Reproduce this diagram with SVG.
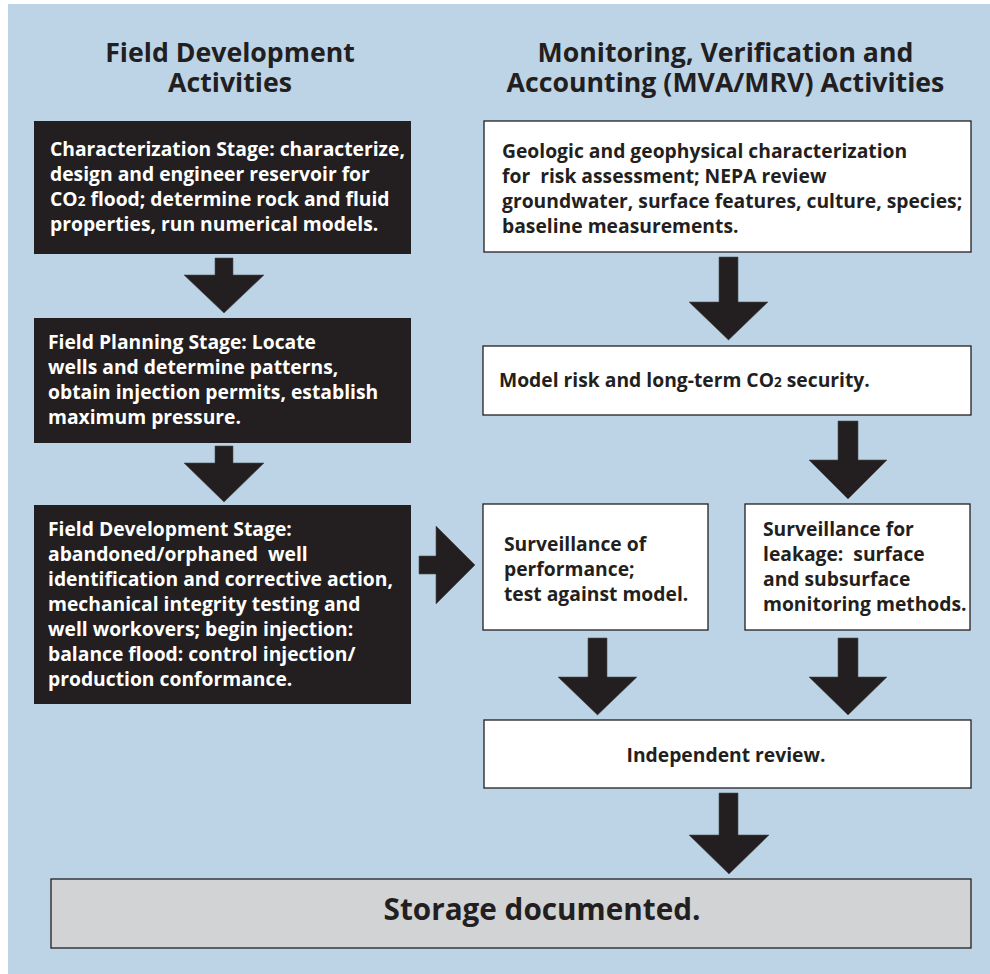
<svg xmlns="http://www.w3.org/2000/svg" width="990" height="974" viewBox="0 0 990 974">
<style>
text{font-family:"Open Sans","Liberation Sans",sans-serif;font-weight:700;}
.t{font-size:26.7px;fill:#231f20;text-anchor:middle;}
.w{font-size:19.3px;fill:#ffffff;}
.d{font-size:19.3px;fill:#231f20;}
.blk{fill:#231f20;}
.wht{fill:#ffffff;stroke:#231f20;stroke-width:1.3;}
.gry{fill:#d1d3d4;stroke:#231f20;stroke-width:1.3;}
.arr{fill:#231f20;stroke:#4d4d4f;stroke-width:0.6;}
.s{font-size:13.5px;}
</style>
<rect x="0" y="0" width="990" height="974" fill="#ffffff"/>
<rect x="8" y="4" width="982" height="970" fill="#bdd4e7"/>
<g id="title-left">
<text class="t" x="230" y="62">Field Development</text>
<text class="t" x="230" y="92">Activities</text>
</g>
<g id="title-right">
<text class="t" x="725.5" y="62">Monitoring, Verification and</text>
<text class="t" x="725.5" y="92">Accounting (MVA/MRV) Activities</text>
</g>
<g id="characterization">
<rect class="blk" x="34" y="121" width="377" height="133"/>
<text class="w" x="50" y="156">Characterization Stage: characterize,</text>
<text class="w" x="50" y="181">design and engineer reservoir for</text>
<text class="w" x="50" y="206">CO<tspan class="s">2</tspan> flood; determine rock and fluid</text>
<text class="w" x="50" y="231">properties, run numerical models.</text>
</g>
<g id="field-planning">
<rect class="blk" x="34" y="318" width="377" height="125"/>
<text class="w" x="48" y="349">Field Planning Stage: Locate</text>
<text class="w" x="48" y="374">wells and determine patterns,</text>
<text class="w" x="48" y="399">obtain injection permits, establish</text>
<text class="w" x="48" y="424">maximum pressure.</text>
</g>
<g id="field-development">
<rect class="blk" x="34" y="505" width="377" height="199"/>
<text class="w" x="48" y="536">Field Development Stage:</text>
<text class="w" x="48" y="561" xml:space="preserve">abandoned/orphaned  well</text>
<text class="w" x="48" y="586">identification and corrective action,</text>
<text class="w" x="48" y="611">mechanical integrity testing and</text>
<text class="w" x="48" y="636">well workovers; begin injection:</text>
<text class="w" x="48" y="661">balance flood: control injection/</text>
<text class="w" x="48" y="686">production conformance.</text>
</g>
<g id="geologic">
<rect class="wht" x="484" y="121" width="487" height="131"/>
<text class="d" x="502" y="158">Geologic and geophysical characterization</text>
<text class="d" x="502" y="183" xml:space="preserve">for  risk assessment; NEPA review</text>
<text class="d" x="502" y="208">groundwater, surface features, culture, species;</text>
<text class="d" x="502" y="233">baseline measurements.</text>
</g>
<g id="model-risk">
<rect class="wht" x="483" y="346" width="488" height="69"/>
<text class="d" x="499" y="387">Model risk and long-term CO<tspan class="s">2</tspan> security.</text>
</g>
<g id="surv-performance">
<rect class="wht" x="483" y="504" width="225" height="126"/>
<text class="d" x="504" y="551">Surveillance of</text>
<text class="d" x="504" y="576">performance;</text>
<text class="d" x="504" y="601">test against model.</text>
</g>
<g id="surv-leakage">
<rect class="wht" x="745" y="504" width="225" height="126"/>
<text class="d" x="763" y="536">Surveillance for</text>
<text class="d" x="763" y="561" xml:space="preserve">leakage:  surface</text>
<text class="d" x="763" y="586">and subsurface</text>
<text class="d" x="763" y="611">monitoring methods.</text>
</g>
<g id="independent-review">
<rect class="wht" x="484" y="720" width="487" height="68"/>
<text class="d" x="726" y="762" text-anchor="middle">Independent review.</text>
</g>
<g id="storage">
<rect class="gry" x="51" y="879" width="920" height="69"/>
<text class="d" x="542" y="920" text-anchor="middle" style="font-size:29.7px">Storage documented.</text>
</g>
<g id="connectors">
<polygon class="arr" points="215,258 233,258 233,275 264,275 224,313 184,275 215,275"/>
<polygon class="arr" points="215,446 233,446 233,463 264,463 224,502 184,463 215,463"/>
<polygon class="arr" points="419,556 436,556 436,526 475,565 436,604 436,574 419,574"/>
<polygon class="arr" points="719,257 738,257 738,302 768,302 728.5,340 689,302 719,302"/>
<polygon class="arr" points="838,421 858,421 858,460 887,460 848,499 809,460 838,460"/>
<polygon class="arr" points="588,638 607,638 607,677 637,677 597.5,715 558,677 588,677"/>
<polygon class="arr" points="838,638 858,638 858,677 887,677 848,715 809,677 838,677"/>
<polygon class="arr" points="719,793 738,793 738,835 769,835 729,874 689,835 719,835"/>
</g>
</svg>
